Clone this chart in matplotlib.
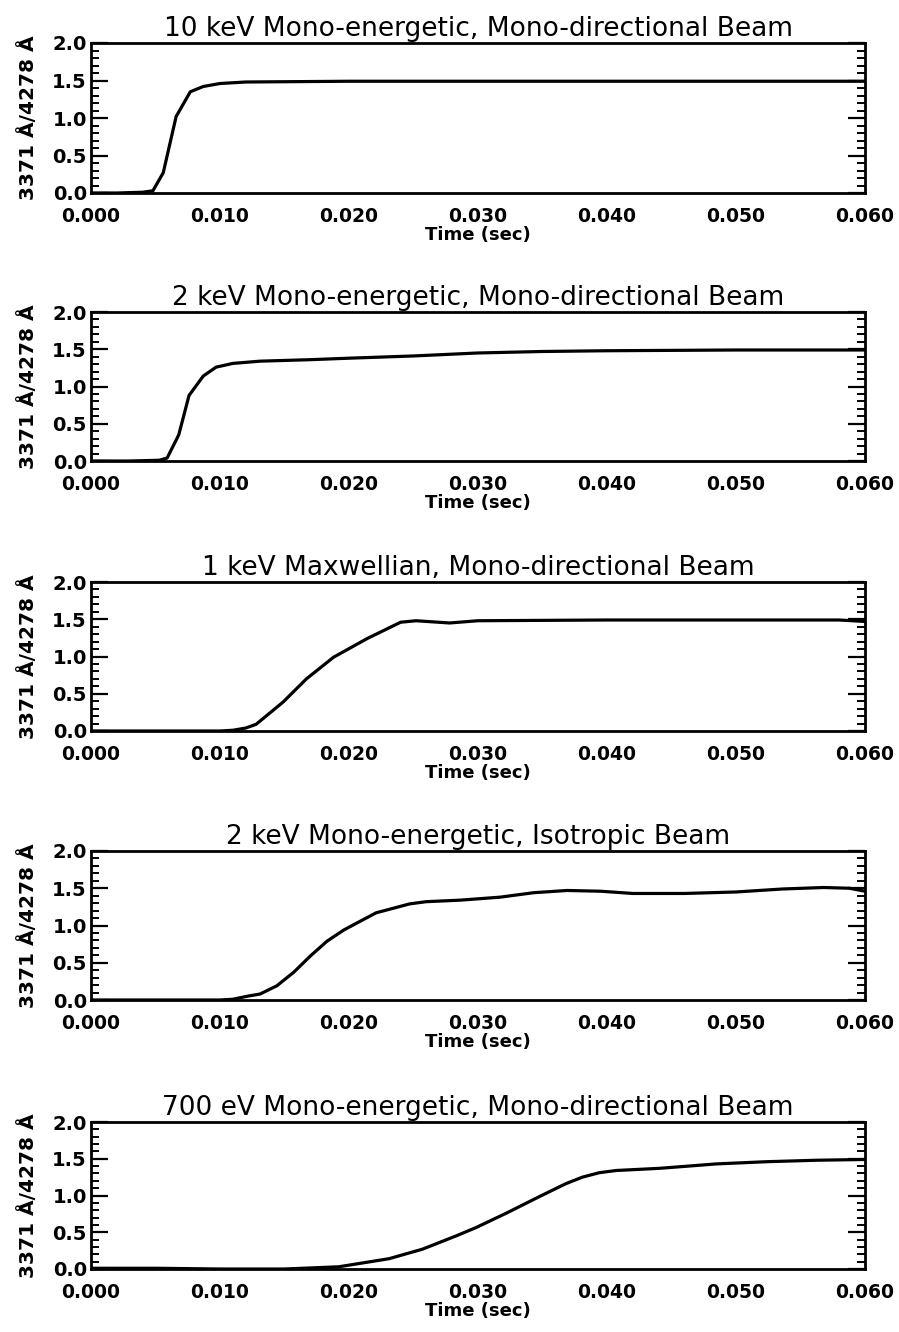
import matplotlib
matplotlib.use("Agg")
import matplotlib.pyplot as plt
from matplotlib.ticker import MultipleLocator, FormatStrFormatter

titles = [
    "10 keV Mono-energetic, Mono-directional Beam",
    "2 keV Mono-energetic, Mono-directional Beam",
    "1 keV Maxwellian, Mono-directional Beam",
    "2 keV Mono-energetic, Isotropic Beam",
    "700 eV Mono-energetic, Mono-directional Beam",
]

t1 = [0.000, 0.002, 0.004, 0.0048, 0.0056, 0.0066, 0.0077, 0.0087, 0.0100, 0.012, 0.020, 0.030, 0.040, 0.050, 0.060]
v1 = [0.00, 0.00, 0.01, 0.03, 0.27, 1.02, 1.35, 1.42, 1.46, 1.48, 1.49, 1.49, 1.49, 1.49, 1.49]

t2 = [0.000, 0.003, 0.0053, 0.0059, 0.0068, 0.0076, 0.0087, 0.0097, 0.0110, 0.0131, 0.0170, 0.020, 0.025, 0.030, 0.035, 0.040, 0.050, 0.060]
v2 = [0.00, 0.00, 0.01, 0.04, 0.35, 0.88, 1.14, 1.26, 1.31, 1.34, 1.36, 1.38, 1.41, 1.45, 1.47, 1.48, 1.49, 1.49]

t3 = [0.000, 0.005, 0.010, 0.0110, 0.0120, 0.0128, 0.0149, 0.0167, 0.0188, 0.0214, 0.0240, 0.0252, 0.0278, 0.030, 0.040, 0.050, 0.058, 0.060]
v3 = [0.00, 0.00, 0.00, 0.01, 0.04, 0.09, 0.39, 0.70, 0.99, 1.24, 1.46, 1.48, 1.45, 1.48, 1.49, 1.49, 1.49, 1.47]

t4 = [0.000, 0.005, 0.010, 0.0110, 0.0121, 0.0131, 0.0144, 0.0157, 0.0170, 0.0183, 0.0196, 0.0209, 0.0221, 0.0234, 0.0247, 0.0260, 0.0286, 0.0317, 0.0343, 0.0369, 0.0395, 0.0420, 0.0460, 0.0500, 0.0536, 0.0568, 0.0588, 0.0600]
v4 = [0.00, 0.00, 0.00, 0.01, 0.05, 0.08, 0.19, 0.37, 0.59, 0.79, 0.94, 1.06, 1.17, 1.23, 1.29, 1.32, 1.34, 1.38, 1.44, 1.47, 1.46, 1.43, 1.43, 1.45, 1.49, 1.51, 1.50, 1.46]

t5 = [0.000, 0.005, 0.010, 0.015, 0.0192, 0.0231, 0.0257, 0.0283, 0.0298, 0.0322, 0.0347, 0.0368, 0.0381, 0.0394, 0.0407, 0.0441, 0.0485, 0.0524, 0.0563, 0.0600]
v5 = [0.01, 0.01, 0.00, 0.00, 0.03, 0.14, 0.27, 0.45, 0.56, 0.76, 0.98, 1.16, 1.25, 1.31, 1.34, 1.37, 1.43, 1.46, 1.48, 1.49]

series = [(t1, v1), (t2, v2), (t3, v3), (t4, v4), (t5, v5)]

xticks = [0.000, 0.010, 0.020, 0.030, 0.040, 0.050, 0.060]
yticks = [0.0, 0.5, 1.0, 1.5, 2.0]

W, H = 899, 1332
fig = plt.figure(figsize=(W / 100, H / 100), dpi=100)

panels_px = [(43, 193), (312, 461), (582, 731), (851, 1000), (1122, 1269)]
left_px, right_px = 91, 865

for i, ((top, bot), title, (t, v)) in enumerate(zip(panels_px, titles, series)):
    ax = fig.add_axes([left_px / W, 1 - bot / H, (right_px - left_px) / W, (bot - top) / H])
    ax.plot(t, v, color="black", lw=2.3)
    ax.set_xlim(0, 0.060)
    ax.set_ylim(0, 2.0)
    ax.set_xticks(xticks)
    ax.xaxis.set_major_formatter(FormatStrFormatter("%.3f"))
    ax.set_yticks(yticks)
    ax.yaxis.set_major_formatter(FormatStrFormatter("%.1f"))
    ax.yaxis.set_minor_locator(MultipleLocator(0.1))
    ax.tick_params(axis="y", which="major", direction="in", length=12, width=1.6,
                   left=True, right=True, labelsize=14, pad=3)
    ax.tick_params(axis="y", which="minor", direction="in", length=6, width=1.4,
                   left=True, right=True)
    ax.tick_params(axis="x", which="major", direction="in", length=0, labelsize=13.5, pad=10)
    for lab in ax.get_xticklabels() + ax.get_yticklabels():
        lab.set_fontweight("bold")
    for s in ax.spines.values():
        s.set_linewidth(2.0)
    ax.set_title(title, fontsize=19, pad=5)
    ax.set_xlabel("Time (sec)", fontsize=13, fontweight="bold", labelpad=0)
    ax.set_ylabel("3371 Å/4278 Å", fontsize=14.5, fontweight="bold", labelpad=10)

fig.savefig("out.png", dpi=100)
